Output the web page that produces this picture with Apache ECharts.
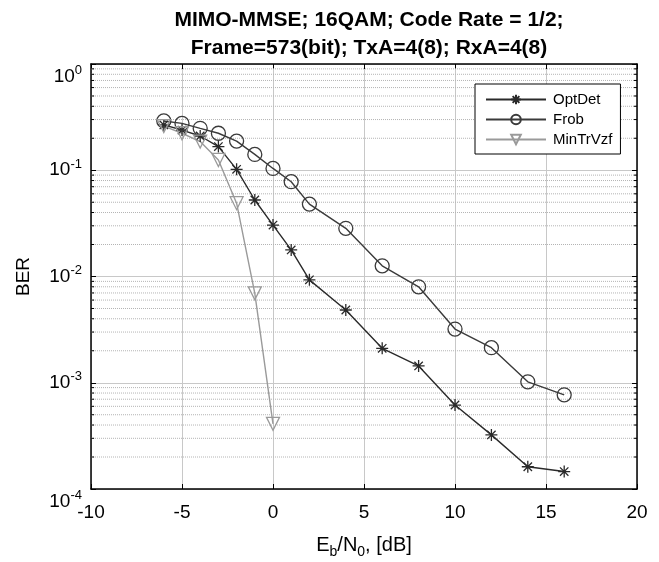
<!DOCTYPE html>
<html>
<head>
  <meta charset="UTF-8">
  <title>MIMO-MMSE BER</title>
  <script src="https://cdn.jsdelivr.net/npm/echarts@6/dist/echarts.min.js"></script>
  <style>
    html, body { margin: 0; padding: 0; background: #fff; }
    #chart { width: 659px; height: 562px; }
  </style>
</head>
<body>
  <div id="chart"></div>
  <script>
// data
const snr = [-6, -5, -4, -3, -2, -1, 0, 1, 2, 4, 6, 8, 10, 12, 14, 16]
const optDet = [0.267, 0.239, 0.21, 0.167, 0.102, 0.0525, 0.0305, 0.0178, 0.0093, 0.00484, 0.00211, 0.00144, 0.000617, 0.000323, 0.000162, 0.000146]
const frob = [0.291, 0.276, 0.248, 0.223, 0.188, 0.141, 0.104, 0.078, 0.048, 0.0284, 0.0126, 0.0080, 0.0032, 0.00214, 0.00102, 0.00077]
const snrMin = [-6, -5, -4, -3, -2, -1, 0]
const minTrVzf = [0.26, 0.223, 0.186, 0.125, 0.049, 0.00695, 0.00041]
const minorGrid = [-4, -3, -2, -1].flatMap(e => [2, 3, 4, 5, 6, 7, 8, 9].map(k => k * Math.pow(10, e)))

const font = 'Liberation Sans, Arial, sans-serif'
const star = 'path://M5 0L5 10M0 5L10 5M1.5 1.5L8.5 8.5M8.5 1.5L1.5 8.5'
const triDown = 'path://M0 0L10 0L5 8.66Z'
const gap = ['-', '-']

const pairs = (xs, ys) => xs.map((x, i) => [x, ys[i]])

// dotted minor grid and small minor ticks, broken into segments
const minorLines = minorGrid.flatMap(v => [[-10, v], [20, v], gap])
const minorTicks = minorGrid.flatMap(v => [[-10, v], [-9.83, v], gap, [19.83, v], [20, v], gap])

function curve (name, xs, ys, symbol, size, color) {
  return {
    name,
    type: 'line',
    data: pairs(xs, ys),
    symbol,
    symbolSize: size,
    showAllSymbol: true,
    animation: false,
    lineStyle: { color, width: 1.4 },
    itemStyle: { color: 'transparent', borderColor: color, borderWidth: 1.3 },
    z: 5
  }
}

function deco (data, type, color) {
  return {
    type: 'line',
    data,
    symbol: 'none',
    silent: true,
    animation: false,
    connectNulls: false,
    lineStyle: { type, color, width: 1 },
    z: 1
  }
}

const chart = echarts.init(document.getElementById('chart'))
chart.setOption({
  backgroundColor: '#fff',
  textStyle: { fontFamily: font },
  title: {
    text: 'MIMO-MMSE; 16QAM; Code Rate = 1/2;\nFrame=573(bit); TxA=4(8); RxA=4(8)',
    left: 364,
    top: 1,
    textAlign: 'center',
    textStyle: { fontSize: 21, fontWeight: 'bold', color: '#000', lineHeight: 28, fontFamily: font }
  },
  legend: {
    orient: 'vertical',
    left: 475,
    top: 84,
    padding: [8, 8, 7, 10],
    itemWidth: 60,
    itemHeight: 12,
    itemGap: 5,
    borderColor: '#000',
    borderWidth: 1,
    borderRadius: 0,
    backgroundColor: '#fff',
    data: ['OptDet', 'Frob', 'MinTrVzf'],
    textStyle: { fontSize: 15, color: '#000', fontFamily: font, padding: [0, 0, 0, 2] }
  },
  grid: { left: 91, right: 22, top: 64, bottom: 73, outerBoundsMode: 'none' },
  xAxis: [{
    type: 'value',
    min: -10,
    max: 20,
    interval: 5,
    name: 'E{sub|b}/N{sub|0}, [dB]',
    nameLocation: 'middle',
    nameGap: 42,
    nameTextStyle: {
      fontSize: 20, color: '#000', fontFamily: font,
      rich: { sub: { fontSize: 14, verticalAlign: 'bottom', padding: [14, 0, 0, 0], color: '#000', fontFamily: font } }
    },
    axisLine: { onZero: false, lineStyle: { color: '#000', width: 1.5 } },
    axisTick: { inside: true, length: 5, lineStyle: { color: '#000' } },
    axisLabel: { fontSize: 19, color: '#000', margin: 14 },
    splitLine: { show: true, lineStyle: { color: '#c8c8c8', width: 1 } }
  }, {
    type: 'value',
    position: 'top',
    min: -10,
    max: 20,
    interval: 5,
    axisLine: { onZero: false, lineStyle: { color: '#000', width: 1.5 } },
    axisTick: { inside: true, length: 5, lineStyle: { color: '#000' } },
    axisLabel: { show: false },
    splitLine: { show: false }
  }],
  yAxis: [{
    type: 'log',
    logBase: 10,
    min: 0.0001,
    max: 1,
    name: 'BER',
    nameLocation: 'middle',
    nameGap: 58,
    nameTextStyle: { fontSize: 19, color: '#000', fontFamily: font },
    axisLine: { onZero: false, lineStyle: { color: '#000', width: 1.5 } },
    axisTick: { inside: true, length: 5, lineStyle: { color: '#000' } },
    axisLabel: {
      fontSize: 19,
      color: '#000',
      margin: 9,
      verticalAlignMinLabel: 'top',
      verticalAlignMaxLabel: 'top',
      formatter: v => '10{sup|' + Math.round(Math.log10(v)) + '}',
      rich: { sup: { fontSize: 13, verticalAlign: 'top', padding: [0, 0, 12, 0], color: '#000', fontFamily: font } }
    },
    splitLine: { show: true, lineStyle: { color: '#c8c8c8', width: 1 } }
  }, {
    type: 'log',
    logBase: 10,
    min: 0.0001,
    max: 1,
    position: 'right',
    axisLine: { onZero: false, lineStyle: { color: '#000', width: 1.5 } },
    axisTick: { inside: true, length: 5, lineStyle: { color: '#000' } },
    axisLabel: { show: false },
    splitLine: { show: false }
  }],
  series: [
    deco(minorLines, 'dotted', '#b4b4b4'),
    deco(minorTicks, 'solid', '#000'),
    curve('OptDet', snr, optDet, star, 12, '#2a2a2a'),
    curve('Frob', snr, frob, 'circle', 14, '#3a3a3a'),
    curve('MinTrVzf', snrMin, minTrVzf, triDown, 13, '#9a9a9a')
  ]
})
  </script>
</body>
</html>
